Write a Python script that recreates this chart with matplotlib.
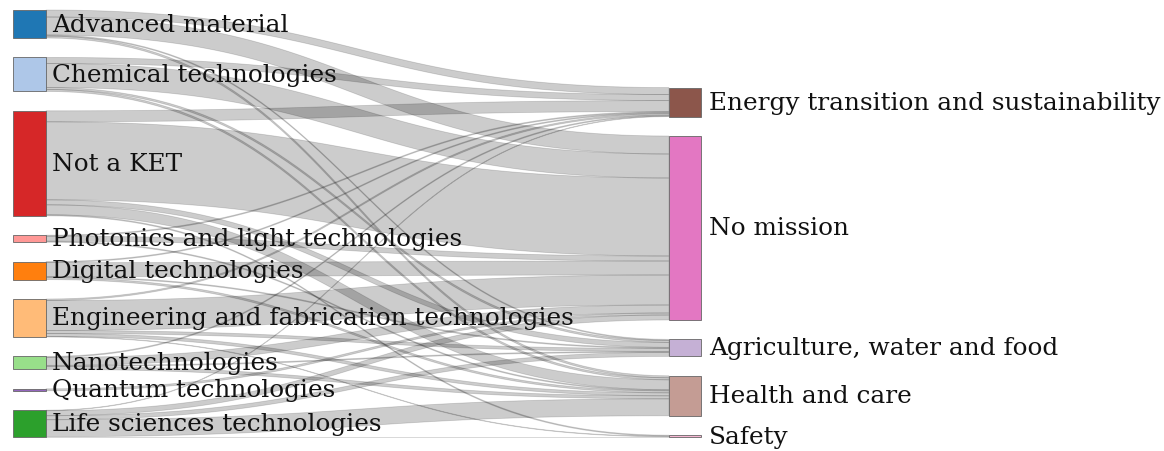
import numpy as np
import matplotlib
matplotlib.use("Agg")
import matplotlib.pyplot as plt
from matplotlib.patches import Rectangle

# Left (key enabling technology) and right (mission) nodes
sources = ["Advanced material", "Chemical technologies", "Not a KET",
           "Photonics and light technologies", "Digital technologies",
           "Engineering and fabrication technologies", "Nanotechnologies",
           "Quantum technologies", "Life sciences technologies"]
targets = ["Energy transition and sustainability", "No mission",
           "Agriculture, water and food", "Health and care", "Safety"]

source_colors = ["#1f77b4", "#aec7e8", "#d62728", "#ff9896", "#ff7f0e",
                 "#ffbb78", "#98df8a", "#9467bd", "#2ca02c"]
target_colors = ["#8c564b", "#e377c2", "#c5b0d5", "#c49c94", "#f7b6d2"]

# flows from each source to (Energy, No mission, Agriculture, Health, Safety)
flow_advanced = [7, 18, 1, 2, 0]
flow_chemical = [6, 24, 2, 2, 0]
flow_not_ket = [11, 78, 5, 10, 1]
flow_photonics = [1, 5, 0, 1, 0]
flow_digital = [1, 14, 1, 2, 0]
flow_engineering = [1.5, 30, 3, 3, 0.5]
flow_nano = [1, 8, 1, 3, 0]
flow_quantum = [0, 2, 0, 0, 0]
flow_life = [0.5, 5, 4, 17, 0.5]

flows = np.array([flow_advanced, flow_chemical, flow_not_ket, flow_photonics,
                  flow_digital, flow_engineering, flow_nano, flow_quantum,
                  flow_life], dtype=float)


def stack_nodes(sizes, top, gap):
    tops = []
    y = top
    for s in sizes:
        tops.append(y)
        y += s + gap
    return np.array(tops)


def link_shape(x0, x1, y0a, y0b, y1a, y1b, n=60):
    t = np.linspace(0, 1, n)
    dx = x1 - x0
    xs = x0 + dx * (1.5 * (1 - t) ** 2 * t + 1.5 * (1 - t) * t ** 2 + t ** 3)
    s = 3 * t ** 2 - 2 * t ** 3
    top = y0a + (y1a - y0a) * s
    bot = y0b + (y1b - y0b) * s
    return np.concatenate([xs, xs[::-1]]), np.concatenate([top, bot[::-1]])


fig = plt.figure(figsize=(11.64, 4.51), dpi=100)
ax = fig.add_axes([0, 0, 1, 1])
ax.set_xlim(0, 1164)
ax.set_ylim(451, 0)
ax.axis("off")

gap = 19.4
left_x, right_x, node_w = 13, 669, 33
src_size = flows.sum(axis=1)
tgt_size = flows.sum(axis=0)
src_top = stack_nodes(src_size, 10, gap)
left_bottom = src_top[-1] + src_size[-1]
right_span = tgt_size.sum() + gap * (len(targets) - 1)
tgt_top = stack_nodes(tgt_size, left_bottom - right_span, gap)

# link offsets: at source ordered by target, at target ordered by source
src_off = src_top.copy()
tgt_off = tgt_top.copy()
src_start = np.zeros_like(flows)
for i in range(len(sources)):
    for j in range(len(targets)):
        src_start[i, j] = src_off[i]
        src_off[i] += flows[i, j]
tgt_start = np.zeros_like(flows)
for j in range(len(targets)):
    for i in range(len(sources)):
        tgt_start[i, j] = tgt_off[j]
        tgt_off[j] += flows[i, j]

for i in range(len(sources)):
    for j in range(len(targets)):
        v = flows[i, j]
        if v <= 0:
            continue
        xs, ys = link_shape(left_x + node_w, right_x,
                            src_start[i, j], src_start[i, j] + v,
                            tgt_start[i, j], tgt_start[i, j] + v)
        ax.fill(xs, ys, facecolor=(0, 0, 0, 0.2), edgecolor=(0, 0, 0, 0.15),
                linewidth=0.6, zorder=1)

label_font = dict(fontsize=17.8, family="DejaVu Serif", va="center",
                  ha="left", color="#111111", zorder=3)

for i, name in enumerate(sources):
    ax.add_patch(Rectangle((left_x, src_top[i]), node_w, src_size[i],
                           facecolor=source_colors[i], edgecolor="#666666",
                           linewidth=0.6, zorder=2))
    ax.text(left_x + node_w + 6, src_top[i] + src_size[i] / 2 + 1, name,
            **label_font)

for j, name in enumerate(targets):
    ax.add_patch(Rectangle((right_x, tgt_top[j]), node_w - 1, tgt_size[j],
                           facecolor=target_colors[j], edgecolor="#666666",
                           linewidth=0.6, zorder=2))
    ax.text(right_x + node_w + 7, tgt_top[j] + tgt_size[j] / 2 + 1, name,
            **label_font)

fig.savefig("out.png", dpi=100)
